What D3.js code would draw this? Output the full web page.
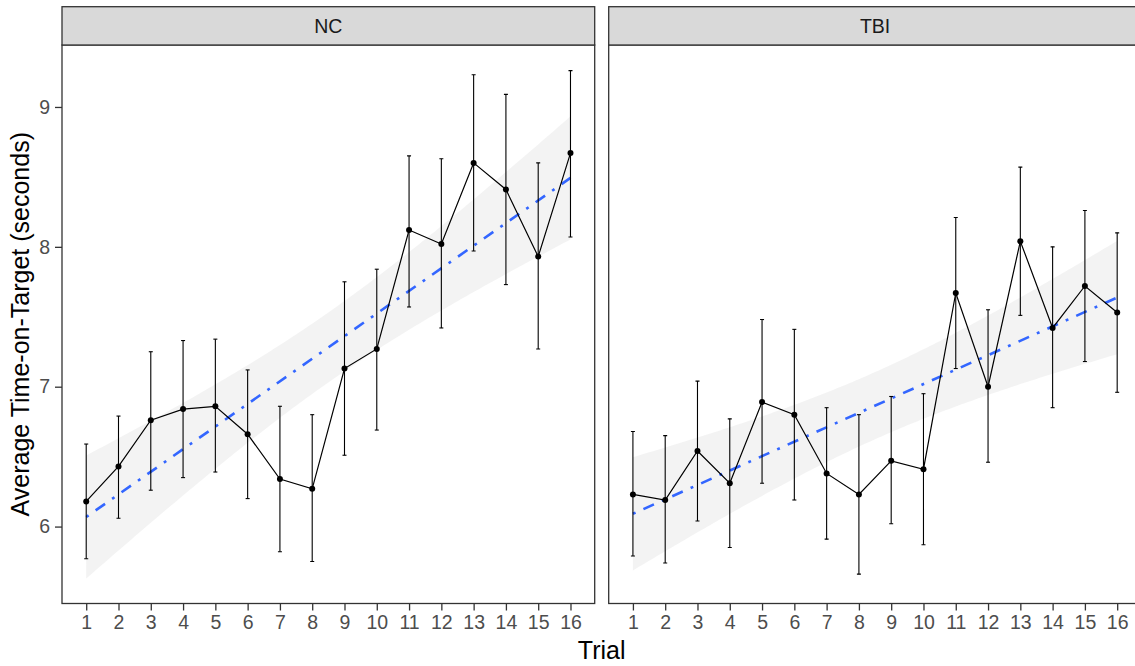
<!DOCTYPE html>
<html>
<head>
<meta charset="utf-8">
<script src="https://cdn.jsdelivr.net/npm/d3@7"></script>
<style>
  html, body { margin: 0; padding: 0; background: #fff; }
  svg { display: block; }
  text { font-family: "Liberation Sans", Arial, Helvetica, sans-serif; }
</style>
</head>
<body>
<svg id="chart" width="1135" height="666"></svg>
<script>
// Trial numbers (x) and y-axis ticks
const trials = [1, 2, 3, 4, 5, 6, 7, 8, 9, 10, 11, 12, 13, 14, 15, 16];
const yTicks = [6, 7, 8, 9];
const groups = ["NC", "TBI"];

// Average time-on-target per trial, with error-bar limits
const ncMean  = [6.18, 6.43, 6.76, 6.84, 6.86, 6.66, 6.34, 6.27, 7.13, 7.27, 8.12, 8.02, 8.60, 8.41, 7.93, 8.67];
const ncLower = [5.77, 6.06, 6.26, 6.35, 6.39, 6.20, 5.82, 5.75, 6.51, 6.69, 7.57, 7.42, 7.97, 7.73, 7.27, 8.07];
const ncUpper = [6.59, 6.79, 7.25, 7.33, 7.34, 7.12, 6.86, 6.80, 7.75, 7.84, 8.65, 8.63, 9.23, 9.09, 8.60, 9.26];

const tbiMean  = [6.23, 6.19, 6.54, 6.31, 6.89, 6.80, 6.38, 6.23, 6.47, 6.41, 7.67, 7.00, 8.04, 7.42, 7.72, 7.53];
const tbiLower = [5.79, 5.74, 6.04, 5.85, 6.31, 6.19, 5.91, 5.66, 6.02, 5.87, 7.13, 6.46, 7.51, 6.85, 7.18, 6.96];
const tbiUpper = [6.68, 6.65, 7.04, 6.77, 7.48, 7.41, 6.85, 6.80, 6.93, 6.95, 8.21, 7.55, 8.57, 8.00, 8.26, 8.10];

// Half-width of the linear-fit confidence band at the centre and at the ends of the trial range
const bandHalfMid = [0.25, 0.24];
const bandHalfEnd = [0.44, 0.405];

const series = [
  { name: groups[0], mean: ncMean,  lower: ncLower,  upper: ncUpper,  mid: bandHalfMid[0], end: bandHalfEnd[0] },
  { name: groups[1], mean: tbiMean, lower: tbiLower, upper: tbiUpper, mid: bandHalfMid[1], end: bandHalfEnd[1] }
];

const svg = d3.select("#chart");

// Layout
const panelTop = 45, panelBottom = 603.5, stripTop = 6.7;
const panelW = 532.7;
const panelLefts = [62, 608.7];

const y = d3.scaleLinear().domain([5.45, 9.443]).range([panelBottom, panelTop]);

// Least-squares line through the trial means
function linFit(xs, ys) {
  const mx = d3.mean(xs), my = d3.mean(ys);
  let sxy = 0, sxx = 0;
  xs.forEach((xv, i) => { sxy += (xv - mx) * (ys[i] - my); sxx += (xv - mx) * (xv - mx); });
  const b = sxy / sxx;
  return { a: my - b * mx, b: b, mx: mx };
}

series.forEach((s, gi) => {
  const left = panelLefts[gi];
  const x = d3.scaleLinear().domain([0.25, 16.75]).range([left, left + panelW]);
  const g = svg.append("g");

  const clipId = "clip" + gi;
  svg.append("clipPath").attr("id", clipId)
    .append("rect").attr("x", left).attr("y", panelTop).attr("width", panelW).attr("height", panelBottom - panelTop);

  const plot = g.append("g").attr("clip-path", `url(#${clipId})`);

  // Panel background
  plot.append("rect").attr("x", left).attr("y", panelTop)
    .attr("width", panelW).attr("height", panelBottom - panelTop).attr("fill", "#fff");

  // Linear trend with confidence band
  const fit = linFit(trials, s.mean);
  const span = d3.max(trials) - fit.mx;
  const half = t => Math.sqrt(s.mid * s.mid + (s.end * s.end - s.mid * s.mid) * Math.pow((t - fit.mx) / span, 2));
  const grid = d3.range(0, 151).map(i => 1 + i * 0.1);
  const band = d3.area()
    .x(t => x(t))
    .y0(t => y(fit.a + fit.b * t - half(t)))
    .y1(t => y(fit.a + fit.b * t + half(t)));
  plot.append("path").datum(grid).attr("d", band)
    .attr("fill", "#999999").attr("fill-opacity", 0.12);

  plot.append("path").datum([d3.min(trials), d3.max(trials)])
    .attr("d", d3.line().x(t => x(t)).y(t => y(fit.a + fit.b * t)))
    .attr("fill", "none").attr("stroke", "#3366FF").attr("stroke-width", 2.6)
    .attr("stroke-dasharray", "2.9 8.6 11.5 8.6");

  // Error bars
  const eb = plot.append("g").attr("stroke", "#000").attr("stroke-width", 1.1).attr("fill", "none");
  trials.forEach((t, i) => {
    eb.append("line").attr("x1", x(t)).attr("x2", x(t)).attr("y1", y(s.lower[i])).attr("y2", y(s.upper[i]));
    eb.append("line").attr("x1", x(t) - 2).attr("x2", x(t) + 2).attr("y1", y(s.lower[i])).attr("y2", y(s.lower[i]));
    eb.append("line").attr("x1", x(t) - 2).attr("x2", x(t) + 2).attr("y1", y(s.upper[i])).attr("y2", y(s.upper[i]));
  });

  // Mean line and points
  plot.append("path").datum(trials.map((t, i) => [t, s.mean[i]]))
    .attr("d", d3.line().x(d => x(d[0])).y(d => y(d[1])))
    .attr("fill", "none").attr("stroke", "#000").attr("stroke-width", 1.2);
  plot.selectAll("circle.pt").data(trials.map((t, i) => [t, s.mean[i]])).enter()
    .append("circle").attr("class", "pt")
    .attr("cx", d => x(d[0])).attr("cy", d => y(d[1])).attr("r", 3).attr("fill", "#000");

  // Panel border
  g.append("rect").attr("x", left).attr("y", panelTop)
    .attr("width", panelW).attr("height", panelBottom - panelTop)
    .attr("fill", "none").attr("stroke", "#333333").attr("stroke-width", 1.3);

  // Strip
  g.append("rect").attr("x", left).attr("y", stripTop)
    .attr("width", panelW).attr("height", panelTop - stripTop)
    .attr("fill", "#D9D9D9").attr("stroke", "#333333").attr("stroke-width", 1.3);
  g.append("text").attr("x", left + panelW / 2).attr("y", (stripTop + panelTop) / 2)
    .attr("dy", "0.35em").attr("text-anchor", "middle")
    .attr("font-size", 19.5).attr("fill", "#1A1A1A").text(s.name);

  // x axis
  const xAxis = d3.axisBottom(x).tickValues(trials).tickSize(7).tickPadding(5).tickFormat(d3.format("d"));
  const xa = g.append("g").attr("transform", `translate(0,${panelBottom})`).call(xAxis);
  xa.select(".domain").remove();
  xa.selectAll(".tick line").attr("stroke", "#333333").attr("stroke-width", 1.3);
  xa.selectAll(".tick text").attr("font-size", 19.5).attr("fill", "#4D4D4D")
    .attr("font-family", "Liberation Sans, Arial, sans-serif");

  // y axis on the first panel only
  if (gi === 0) {
    const yAxis = d3.axisLeft(y).tickValues(yTicks).tickSize(7).tickPadding(5).tickFormat(d3.format("d"));
    const ya = g.append("g").attr("transform", `translate(${left},0)`).call(yAxis);
    ya.select(".domain").remove();
    ya.selectAll(".tick line").attr("stroke", "#333333").attr("stroke-width", 1.3);
    ya.selectAll(".tick text").attr("font-size", 19.5).attr("fill", "#4D4D4D")
      .attr("font-family", "Liberation Sans, Arial, sans-serif");
  }
});

// Axis titles
svg.append("text").attr("x", (panelLefts[0] + panelLefts[1] + panelW) / 2).attr("y", 659)
  .attr("text-anchor", "middle").attr("font-size", 25).attr("fill", "#000").text("Trial");
svg.append("text").attr("transform", `translate(29,${(panelTop + panelBottom) / 2}) rotate(-90)`)
  .attr("text-anchor", "middle").attr("font-size", 25).attr("fill", "#000")
  .text("Average Time-on-Target (seconds)");
</script>
</body>
</html>
